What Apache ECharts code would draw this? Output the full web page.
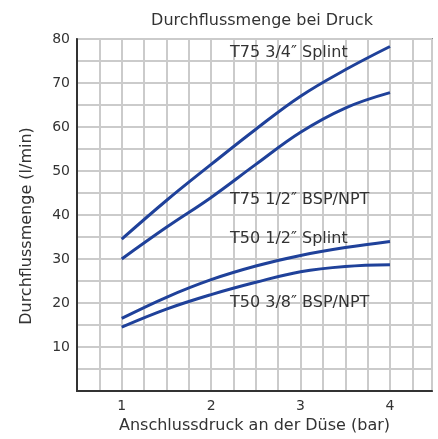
<!DOCTYPE html>
<html>
<head>
<meta charset="utf-8">
<script src="https://cdn.jsdelivr.net/npm/echarts@6/dist/echarts.min.js"></script>
<style>
  html, body { margin: 0; padding: 0; background: #fff; }
  #chart { width: 438px; height: 439px; }
</style>
</head>
<body>
<div id="chart"></div>
<script>
// Anschlussdruck (bar)
var pressure = [1, 1.5, 2, 2.5, 3, 3.5, 4];
// Durchflussmenge (l/min)
var t75Splint34 = [34.5, 43.3, 51.5, 59.5, 67, 73, 78.3];
var t75Bsp12 = [30, 37.2, 44, 51.5, 58.8, 64.3, 67.8];
var t50Splint12 = [16.5, 21.3, 25.3, 28.4, 30.8, 32.6, 34];
var t50Bsp38 = [14.5, 18.6, 21.9, 24.7, 27.1, 28.3, 28.7];
var seriesNames = ["T75 3/4″ Splint", "T75 1/2″ BSP/NPT", "T50 1/2″ Splint", "T50 3/8″ BSP/NPT"];

var font = "DejaVu Sans";
var textColor = "#333";
var lineColor = "#1f419a";

function pairs(ys) {
  return ys.map(function (y, i) { return [pressure[i], y]; });
}

function curve(name, ys) {
  return {
    name: name,
    type: "line",
    data: pairs(ys),
    smooth: 0.4,
    showSymbol: false,
    lineStyle: { color: lineColor, width: 3 },
    itemStyle: { color: lineColor }
  };
}

function label(text, x, y) {
  return {
    type: "text", x: x, y: y, z: 100,
    style: { text: text, font: "16px " + font, fill: textColor, verticalAlign: "middle" }
  };
}

var chart = echarts.init(document.getElementById("chart"));
chart.setOption({
  animation: false,
  backgroundColor: "#fff",
  title: {
    text: "Durchflussmenge bei Druck",
    left: 257,
    top: 8,
    textAlign: "center",
    textStyle: { fontFamily: font, fontSize: 16, fontWeight: "normal", color: textColor }
  },
  grid: {
    left: 77, top: 39, right: 6, bottom: 45,
    show: true, borderColor: "#333", borderWidth: 1.5
  },
  xAxis: {
    type: "value",
    min: 0.5,
    max: 4.47,
    interval: 0.25,
    name: "Anschlussdruck an der Düse (bar)",
    nameLocation: "middle",
    nameGap: 27,
    nameTextStyle: { fontFamily: font, fontSize: 16, color: textColor },
    axisLine: { show: true, lineStyle: { color: "#333", width: 2 } },
    axisTick: { show: false },
    axisLabel: {
      fontFamily: font, fontSize: 14, color: textColor, margin: 8,
      formatter: function (v) { return Number.isInteger(v) ? String(v) : ""; }
    },
    splitLine: { show: true, lineStyle: { color: "#cbcbcb", width: 2 } }
  },
  yAxis: {
    type: "value",
    min: 0,
    max: 80,
    interval: 5,
    axisLine: { show: true, lineStyle: { color: "#333", width: 2 } },
    axisTick: { show: false },
    axisLabel: {
      fontFamily: font, fontSize: 14, color: textColor, margin: 7,
      formatter: function (v) { return (v > 0 && v % 10 === 0) ? String(v) : ""; }
    },
    splitLine: { show: true, lineStyle: { color: "#cbcbcb", width: 2 } }
  },
  graphic: [
    {
      type: "text", x: 27, y: 226, rotation: Math.PI / 2, z: 100,
      style: { text: "Durchflussmenge (l/min)", font: "16px " + font, fill: textColor, align: "center", verticalAlign: "middle" }
    },
    label(seriesNames[0], 230, 53),
    label(seriesNames[1], 230, 200),
    label(seriesNames[2], 230, 239),
    label(seriesNames[3], 230, 303)
  ],
  series: [
    curve(seriesNames[0], t75Splint34),
    curve(seriesNames[1], t75Bsp12),
    curve(seriesNames[2], t50Splint12),
    curve(seriesNames[3], t50Bsp38)
  ]
});
</script>
</body>
</html>
